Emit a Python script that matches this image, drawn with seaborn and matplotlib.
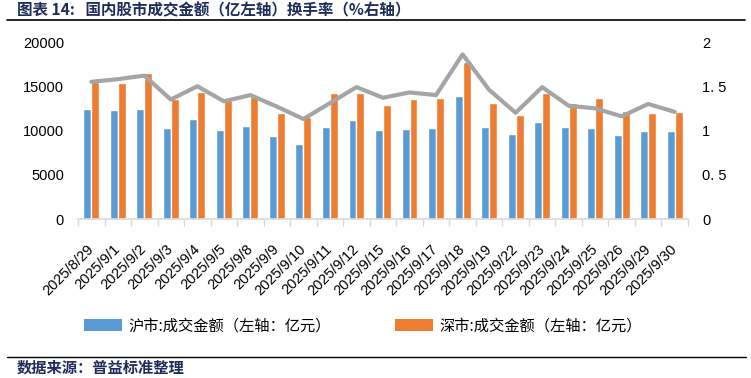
import numpy as np
import pandas as pd
import matplotlib
matplotlib.use("Agg")
import matplotlib.pyplot as plt
import seaborn as sns
from matplotlib.patches import Patch
from matplotlib.lines import Line2D

dates = ["2025/8/29", "2025/9/1", "2025/9/2", "2025/9/3", "2025/9/4", "2025/9/5",
         "2025/9/8", "2025/9/9", "2025/9/10", "2025/9/11", "2025/9/12", "2025/9/15",
         "2025/9/16", "2025/9/17", "2025/9/18", "2025/9/19", "2025/9/22", "2025/9/23",
         "2025/9/24", "2025/9/25", "2025/9/26", "2025/9/29", "2025/9/30"]
sh_amount = [12400, 12300, 12400, 10250, 11270, 10020, 10470, 9340, 8470, 10400, 11190, 10060,
             10130, 10250, 13900, 10360, 9600, 10930, 10360, 10250, 9490, 9910, 9910]
sz_amount = [15500, 15400, 16530, 13600, 14380, 13450, 13820, 11980, 11490, 14240, 14240, 12880,
             13560, 13670, 17780, 13100, 11750, 14240, 13100, 13670, 12200, 11980, 12090]
turnover = [1.55, 1.58, 1.62, 1.35, 1.50, 1.33, 1.40, 1.27, 1.13, 1.31, 1.49, 1.37,
            1.43, 1.40, 1.86, 1.46, 1.20, 1.49, 1.28, 1.25, 1.16, 1.30, 1.21]
series_names = ["沪市:成交金额（左轴：亿元）", "深市:成交金额（左轴：亿元）"]
left_ticks = [0, 5000, 10000, 15000, 20000]
right_ticks = [0, 0.5, 1, 1.5, 2]
right_tick_labels = ["0", "0. 5", "1", "1. 5", "2"]
title = "图表 14:   国内股市成交金额（亿左轴）换手率（%右轴）"
source = "数据来源：普益标准整理"

BLUE = "#5B9BD5"
ORANGE = "#ED7D31"
GRAY = "#A5A5A5"
NAVY = "#1F2D5A"

sns.set_theme(style="white")
plt.rcParams["font.family"] = ["Liberation Sans", "Noto Sans CJK SC", "DejaVu Sans"]
plt.rcParams["text.color"] = "black"

df = pd.DataFrame({
    "date": dates * 2,
    "amount": sh_amount + sz_amount,
    "market": [series_names[0]] * len(dates) + [series_names[1]] * len(dates),
})

fig = plt.figure(figsize=(7.51, 3.78), dpi=100)
ax = fig.add_axes([78 / 751, 1 - 219 / 378, 610 / 751, 177 / 378])
sns.barplot(data=df, x="date", y="amount", hue="market", palette=[BLUE, ORANGE],
            width=0.6, saturation=1, errorbar=None, legend=False, ax=ax)
ax.set_xlim(-0.5, len(dates) - 0.5)
ax.set_ylim(0, 20000)
ax.set_yticks(left_ticks)
ax.set_yticklabels([str(t) for t in left_ticks])
ax.set_xlabel("")
ax.set_ylabel("")
for s in ["left", "right", "top"]:
    ax.spines[s].set_visible(False)
ax.spines["bottom"].set_color("#D9D9D9")
ax.spines["bottom"].set_linewidth(1.2)
ax.set_xticks(np.arange(-0.5, len(dates), 1.0), minor=True)
ax.tick_params(axis="x", which="minor", length=5, width=1, color="#D9D9D9", direction="out", bottom=True)
ax.tick_params(axis="x", which="major", length=0, pad=20, labelsize=10.5, labelcolor="black")
ax.tick_params(axis="y", length=0, pad=10, labelsize=10.5, labelcolor="black")
plt.setp(ax.get_xticklabels(), rotation=45, ha="right", va="center", rotation_mode="anchor")

ax2 = ax.twinx()
sns.lineplot(x=np.arange(len(dates)), y=turnover, color=GRAY, linewidth=3, ax=ax2)
ax2.set_ylim(0, 2)
ax2.set_yticks(right_ticks)
ax2.set_yticklabels(right_tick_labels)
ax2.tick_params(axis="y", length=0, pad=10, labelsize=10.5, labelcolor="black")
for s in ax2.spines.values():
    s.set_visible(False)
ax2.set_ylabel("")
ax2.grid(False)
ax.grid(False)

handles = [Patch(facecolor=BLUE, edgecolor="none"), Patch(facecolor=ORANGE, edgecolor="none")]
fig.legend(handles, series_names, loc="center left", bbox_to_anchor=(84 / 751, 1 - 326 / 378),
           ncol=2, frameon=False, handlelength=2.5, handleheight=0.85,
           handletextpad=0.4, columnspacing=4.2, borderpad=0, borderaxespad=0,
           prop={"family": ["Noto Sans CJK SC", "DejaVu Sans"], "size": 11})

fig.text(17 / 751, 1 - 10 / 378, title, fontsize=11.2, fontweight="bold", color=NAVY,
         va="center", ha="left", family=["Noto Sans CJK SC", "DejaVu Sans"])
fig.add_artist(Line2D([7 / 751, 745 / 751], [1 - 20 / 378, 1 - 20 / 378], color="black", lw=1.2,
                      transform=fig.transFigure))
fig.add_artist(Line2D([7 / 751, 746 / 751], [1 - 357 / 378, 1 - 357 / 378], color="black", lw=1.0,
                      transform=fig.transFigure))
fig.text(17 / 751, 1 - 368 / 378, source, fontsize=11, fontweight="bold", color=NAVY,
         va="center", ha="left", family=["Noto Sans CJK SC", "DejaVu Sans"])

fig.savefig("out.png", dpi=100)
